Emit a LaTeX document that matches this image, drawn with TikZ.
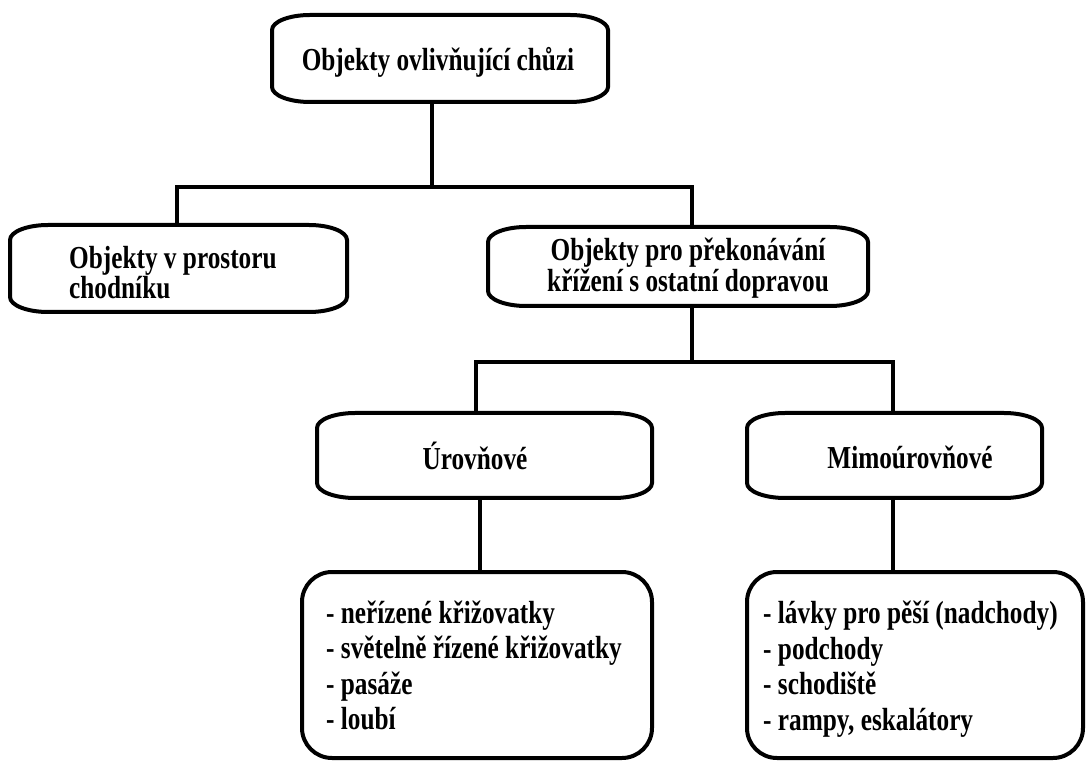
\documentclass[tikz,border=0pt]{standalone}
\usepackage{fontspec}
\setmainfont{Liberation Serif}[FakeStretch=0.79]
\usetikzlibrary{calc}
\tikzset{
  area/.style={draw=none, rectangle, inner sep=0pt, outer sep=0pt},
  outline/.style={draw=black, line width=4pt},
  listbox/.style={area, draw=black, line width=4pt, rounded corners=30pt},
  conn/.style={draw=black, line width=4pt},
  lbl/.style={inner sep=0pt, font=\fontsize{32}{29}\selectfont\bfseries},
  listlbl/.style={inner sep=0pt, align=left, font=\fontsize{32}{35.5}\selectfont\bfseries},
}
\newcommand\pillbox[1]{%
  \draw[outline] ($(#1.north west)+(38pt,0)$) -- ($(#1.north east)+(-38pt,0)$)
    arc[start angle=90,end angle=0,x radius=38pt,y radius=15pt]
    -- ($(#1.south east)+(0,15pt)$)
    arc[start angle=0,end angle=-90,x radius=38pt,y radius=15pt]
    -- ($(#1.south west)+(38pt,0)$)
    arc[start angle=270,end angle=180,x radius=38pt,y radius=15pt]
    -- ($(#1.north west)+(0,-15pt)$)
    arc[start angle=180,end angle=90,x radius=38pt,y radius=15pt] -- cycle;}
\begin{document}
\begin{tikzpicture}[x=1pt,y=1pt]
\fill[white] (0,0) rectangle (1087,761);
\useasboundingbox (0,0) rectangle (1087,761);

% box areas
\node[area, minimum width=336pt, minimum height=87pt] (b1) at (440,702.5) {};
\node[area, minimum width=337pt, minimum height=87pt] (b2) at (178.5,492.5) {};
\node[area, minimum width=380pt, minimum height=79pt] (b3) at (678,494.5) {};
\node[area, minimum width=335pt, minimum height=85pt] (b4) at (484.5,305.5) {};
\node[area, minimum width=295pt, minimum height=85pt] (b5) at (894.5,305.5) {};
\pillbox{b1}
\pillbox{b2}
\pillbox{b3}
\pillbox{b4}
\pillbox{b5}
\node[listbox, minimum width=350pt, minimum height=186pt] (b6) at (477,96) {};
\node[listbox, minimum width=336pt, minimum height=186pt] (b7) at (915,96) {};

% texts
\node[lbl] (t1) at (438,699) {Objekty ovlivňující chůzi};
\node[lbl, anchor=west, align=left] (t2) at (69,488.5) {Objekty v prostoru\\chodníku};
\node[lbl, align=center] (t3) at (688,493) {Objekty pro překonávání\\křížení s ostatní dopravou};
\node[lbl] (t4) at (475,305) {Úrovňové};
\node[lbl] (t5) at (910,304) {Mimoúrovňové};
\node[listlbl, anchor=west] (t6) at (326,95.5) {- neřízené křižovatky\\- světelně řízené křižovatky\\- pasáže\\- loubí};
\node[listlbl, anchor=west] (t7) at (763,92) {- lávky pro pěší (nadchody)\\- podchody\\- schodiště\\- rampy, eskalátory};

% connectors
\coordinate (j1) at (432,574);
\coordinate (l1) at (177,574);
\coordinate (r1) at (692,574);
\draw[conn] (b1.south -| j1) -- (j1);
\draw[conn] (l1 |- b2.north) -- (l1) -- (r1) -- (r1 |- b3.north);
\coordinate (j2) at (692,399);
\coordinate (l2) at (476,399);
\coordinate (r2) at (893,399);
\draw[conn] (b3.south -| j2) -- (j2);
\draw[conn] (l2 |- b4.north) -- (l2) -- (r2) -- (r2 |- b5.north);
\coordinate (j3) at (480,0);
\draw[conn] (b4.south -| j3) -- (b6.north -| j3);
\draw[conn] (b5.south -| r2) -- (b7.north -| r2);
\end{tikzpicture}
\end{document}
